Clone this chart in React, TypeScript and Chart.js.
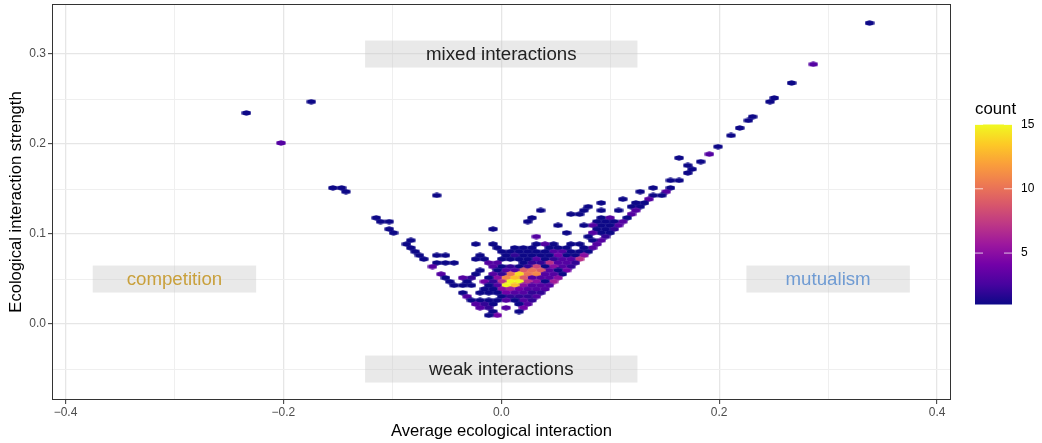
import React, { useEffect, useRef } from "react";
import { Chart, registerables } from "chart.js";

Chart.register(...registerables);

const FONT = '"Liberation Sans", Arial, sans-serif';

// Hexagonal bins: one line per bin row.
const binRows = [0,11,16,20,21,24,25,26,28,30,32,33,35,36,37,38,39,40,42,44,45,46,47,48,49,50,51,52,53,54,55,56,57,58,59,60,61,62,63,64,65,66,67,68,69,70,71,72,73,74,75,76,77,78];
const binCols = [
  [0],[13],[18],[22],[23,129],[144],[27],[28],[30],[32],[136],[35],[37],[44],[39],[42],[41],[42],
  [46,44],[50,46,124,122],[53,47,121],[50,48,100],[51,57],[54,52,62],[55,53,65],[54,58,62,66,76],[55,67,69],
  [56,60,62,78,114],[57,59,61,63,79,113,111],[58,60,62,64,66,72],[59,61,63,87,111],[60,62,64,70,110],[61,65,77],[62,64,106],
  [63,67,69,73,75,77,87,91,107],
  [64,66,70,72,74,78,80,82,86,106],
  [65,67,69,71,73,75,77,79,81,83,85,105],
  [66,68,70,72,74,76,78,80,82,84,90,98,100,104],
  [67,69,71,73,75,77,79,81,83,85,89,91,103],
  [68,70,72,74,76,78,80,86,88,96,98,100],
  [69,71,73,75,77,79,81,83,85,87,101],
  [70,72,74,76,78,80,82,84,86,90],
  [71,73,75,77,79,81,83,85,87,91,99],
  [72,74,76,78,80,82,84,86,88,92,94,98],
  [73,75,77,79,81,83,85,87,89,93,97],
  [74,76,78,80,82,84,86,88,92,94,96],
  [75,77,79,81,83,85,87,89],
  [76,78,80,82,84,86,88,90,94],
  [77,79,81,83,85,93],
  [78,80,82,84,86,88,90,92],
  [79,81,87,89,91],
  [80,84,88,90],
  [81,87],
  [86,88],
];
const binCounts = [
  [1],[3],[1],[1],[1,1],[1],[1],[1],[1],[1],[3],[1],[3],[1],[1],[1],[1],[1],
  [1,1],[1,1,1,1],[1,3,1],[1,1,1],[3,1],[1,1,1],[1,1,1],[3,1,1,1,1],[3,1,1],
  [1,3,1,1,1],[3,1,1,1,1,1,1],[3,1,1,3,1,1],[2,1,1,1,1],[1,1,3,1,1],[2,1,3],[3,1,1],
  [3,1,1,1,3,1,1,1,1],
  [3,1,1,1,1,1,1,1,1,1],
  [1,1,1,3,3,1,1,1,1,1,1,1],
  [5,1,1,4,1,1,1,1,2,1,1,1,1,1],
  [7,3,3,2,1,3,1,1,1,1,1,1,1],
  [2,3,3,7,2,2,1,3,3,1,1,1],
  [2,3,5,1,8,2,1,2,1,3,3],
  [4,1,3,9,10,9,3,3,1,1],
  [1,3,3,11,10,14,10,2,3,1,3],
  [5,3,3,3,9,13,11,5,1,2,3,1],
  [6,1,5,7,15,15,7,2,4,1,1],
  [3,3,3,5,13,15,3,1,1,1,1],
  [3,3,3,4,6,5,1,1],
  [2,2,3,3,4,1,1,1,1],
  [3,2,2,2,1,3],
  [2,3,1,3,1,1,1,1],
  [3,1,1,2,3],
  [4,3,2,3],
  [1,1],
  [4,1],
];

const binOriginX = 0.338;
const binStepX = 0.003972;
const binOriginY = 0.33444;
const binStepY = 0.004163;

const xLimits = [-0.4124, 0.4128];
const yLimits = [-0.0844, 0.3556];
const xMajor = [-0.4, -0.2, 0, 0.2, 0.4];
const xMinor = [-0.3, -0.1, 0.1, 0.3];
const yMajor = [0, 0.1, 0.2, 0.3];
const yMinor = [-0.05, 0.05, 0.15, 0.25];

const noteLabels = ["mixed interactions", "weak interactions", "competition", "mutualism"];
const noteX = [0, 0, -0.3, 0.3];
const noteY = [0.3, -0.05, 0.05, 0.05];
const noteHalfWidth = [0.125, 0.125, 0.075, 0.075];
const noteColors = ["#222222", "#222222", "#C9A03C", "#6F9BD3"];
const noteHalfHeight = 0.015;

const plasmaStops = ["#0D0887", "#47039F", "#7301A8", "#9C179E", "#BD3786", "#D8576B", "#ED7953", "#FA9E3B", "#FDC926", "#F0F921"];
const countMin = 1;
const countMax = 15;
const legendTicks = [5, 10, 15];

function hexToRgb(h: string) {
  return [parseInt(h.slice(1, 3), 16), parseInt(h.slice(3, 5), 16), parseInt(h.slice(5, 7), 16)];
}
function plasma(t: number) {
  const p = Math.max(0, Math.min(1, t)) * (plasmaStops.length - 1);
  const i = Math.min(plasmaStops.length - 2, Math.floor(p));
  const a = hexToRgb(plasmaStops[i]);
  const b = hexToRgb(plasmaStops[i + 1]);
  const f = p - i;
  return `rgb(${a.map((v, n) => Math.round(v + (b[n] - v) * f)).join(",")})`;
}
const countColor = (c: number) => plasma((c - countMin) / (countMax - countMin));

function hexSprite(color: string) {
  const c = document.createElement("canvas");
  c.width = 10;
  c.height = 6;
  const g = c.getContext("2d")!;
  const hw = 4.6, r = 2.8, cx = 5, cy = 3;
  g.fillStyle = color;
  g.beginPath();
  g.moveTo(cx, cy - r);
  g.lineTo(cx + hw, cy - r / 2);
  g.lineTo(cx + hw, cy + r / 2);
  g.lineTo(cx, cy + r);
  g.lineTo(cx - hw, cy + r / 2);
  g.lineTo(cx - hw, cy - r / 2);
  g.closePath();
  g.fill();
  return c;
}

const panelAndNotes = {
  id: "panelAndNotes",
  afterDatasetsDraw(chart: any) {
    const { ctx, chartArea: a, scales } = chart;
    const x = scales.x, y = scales.y;
    ctx.save();
    noteLabels.forEach((label, i) => {
      const l = x.getPixelForValue(noteX[i] - noteHalfWidth[i]);
      const r = x.getPixelForValue(noteX[i] + noteHalfWidth[i]);
      const t = y.getPixelForValue(noteY[i] + noteHalfHeight);
      const b = y.getPixelForValue(noteY[i] - noteHalfHeight);
      ctx.fillStyle = "rgba(200,200,200,0.4)";
      ctx.fillRect(l, t, r - l, b - t);
      ctx.fillStyle = noteColors[i];
      ctx.font = `18.7px ${FONT}`;
      ctx.textAlign = "center";
      ctx.textBaseline = "middle";
      ctx.fillText(label, (l + r) / 2, (t + b) / 2 + 0.5);
    });
    ctx.strokeStyle = "#333333";
    ctx.lineWidth = 1;
    ctx.strokeRect(a.left + 0.5, a.top + 0.5, a.right - a.left - 1, a.bottom - a.top - 1);

    // colour bar
    const bx = 975, bw = 37, by = 124.5, bh = 180;
    const grad = ctx.createLinearGradient(0, by + bh, 0, by);
    plasmaStops.forEach((s, i) => grad.addColorStop(i / (plasmaStops.length - 1), s));
    ctx.fillStyle = grad;
    ctx.fillRect(bx, by, bw, bh);
    ctx.font = `16.8px ${FONT}`;
    ctx.fillStyle = "#000000";
    ctx.textAlign = "left";
    ctx.textBaseline = "middle";
    ctx.fillText("count", bx, 109);
    ctx.font = `12px ${FONT}`;
    legendTicks.forEach((v) => {
      const py = by + bh - ((v - countMin) / (countMax - countMin)) * bh;
      ctx.fillStyle = "rgba(255,255,255,0.75)";
      ctx.fillRect(bx, py - 0.5, 8, 1);
      ctx.fillRect(bx + bw - 8, py - 0.5, 8, 1);
      ctx.fillStyle = "#000000";
      ctx.fillText(String(v), bx + bw + 9, py);
    });
    ctx.restore();
  },
};

const fmt = (v: number) => (v < 0 ? "\u2212" : "") + Math.abs(v).toFixed(1);
const isIn = (list: number[], v: number) => list.some((m) => Math.abs(m - v) < 1e-6);

export default function App() {
  const ref = useRef<HTMLCanvasElement>(null);
  useEffect(() => {
    const points: { x: number; y: number }[] = [];
    const sprites: HTMLCanvasElement[] = [];
    const cache: Record<number, HTMLCanvasElement> = {};
    binRows.forEach((row, i) => {
      binCols[i].forEach((col, j) => {
        const c = binCounts[i][j];
        points.push({ x: binOriginX - col * binStepX, y: binOriginY - row * binStepY });
        sprites.push(cache[c] || (cache[c] = hexSprite(countColor(c))));
      });
    });
    const axisGrid = (major: number[]) => ({
      color: (c: any) => (isIn(major, c.tick?.value) ? "#e6e6e6" : "#efefef"),
      lineWidth: (c: any) => (isIn(major, c.tick?.value) ? 1.3 : 1),
      tickColor: (c: any) => (isIn(major, c.tick?.value) ? "#333333" : "rgba(0,0,0,0)"),
      tickLength: 4,
      tickWidth: 1,
      drawTicks: true,
    });
    const chart = new Chart(ref.current!, {
      type: "scatter",
      data: {
        datasets: [
          {
            data: points,
            pointStyle: sprites as any,
            pointRadius: 4,
            pointHoverRadius: 4,
            showLine: false,
          },
        ],
      },
      options: {
        responsive: false,
        animation: false,
        events: [],
        devicePixelRatio: 1,
        layout: { autoPadding: false, padding: { left: 0, right: 91, top: 4, bottom: 0 } },
        plugins: { legend: { display: false }, tooltip: { enabled: false } },
        scales: {
          x: {
            type: "linear",
            min: xLimits[0],
            max: xLimits[1],
            afterBuildTicks: (s: any) => {
              s.ticks = [...xMajor, ...xMinor].sort((a, b) => a - b).map((value) => ({ value }));
            },
            afterFit: (s: any) => {
              s.height = 43;
              s.paddingLeft = 0;
              s.paddingRight = 0;
            },
            border: { display: false },
            grid: axisGrid(xMajor),
            ticks: {
              autoSkip: false,
              maxRotation: 0,
              padding: 1,
              color: "#4d4d4d",
              font: { family: FONT, size: 12 },
              callback: (v: any) => (isIn(xMajor, Number(v)) ? fmt(Number(v)) : ""),
            },
            title: {
              display: true,
              text: "Average ecological interaction",
              color: "#000000",
              font: { family: FONT, size: 16.6 },
              padding: { top: 0, bottom: 2 },
            },
          },
          y: {
            type: "linear",
            min: yLimits[0],
            max: yLimits[1],
            afterBuildTicks: (s: any) => {
              s.ticks = [...yMajor, ...yMinor].sort((a, b) => a - b).map((value) => ({ value }));
            },
            afterFit: (s: any) => {
              s.width = 52;
              s.paddingTop = 0;
              s.paddingBottom = 0;
            },
            border: { display: false },
            grid: axisGrid(yMajor),
            ticks: {
              autoSkip: false,
              padding: 2,
              color: "#4d4d4d",
              font: { family: FONT, size: 12 },
              callback: (v: any) => (isIn(yMajor, Number(v)) ? fmt(Number(v)) : ""),
            },
            title: {
              display: true,
              text: "Ecological interaction strength",
              color: "#000000",
              font: { family: FONT, size: 16.6 },
              padding: { top: 6, bottom: 0 },
            },
          },
        },
      },
      plugins: [panelAndNotes],
    } as any);
    return () => chart.destroy();
  }, []);
  return (
    <div style={{ position: "absolute", left: 0, top: 0, width: 1042, height: 443, background: "#fff" }}>
      <canvas ref={ref} width={1042} height={443} style={{ display: "block" }} />
    </div>
  );
}
